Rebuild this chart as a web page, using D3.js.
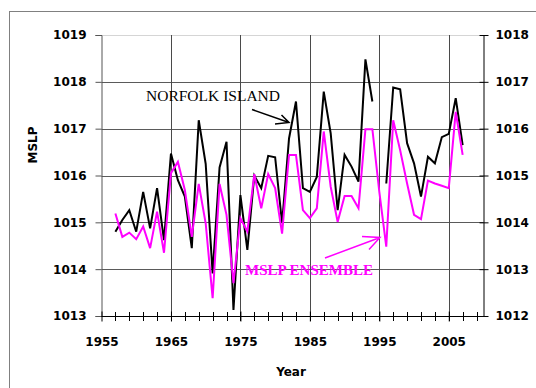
<!DOCTYPE html>
<html>
<head>
<meta charset="utf-8">
<script src="https://cdn.jsdelivr.net/npm/d3@7"></script>
<style>
  body { margin: 0; background: #fff; }
  svg text { font-family: "DejaVu Sans", Arial, sans-serif; }
</style>
</head>
<body>
<div id="chart"></div>
<script>
// years 1957-2007
const years = d3.range(1957, 2008);
const norfolk = [1014.80, 1015.05, 1015.26, 1014.80, 1015.65, 1014.87, 1015.73, 1014.62, 1016.47, 1015.90,
                 1015.55, 1014.45, 1017.18, 1016.25, 1013.91, 1016.17, 1016.72, 1013.13, 1015.58, 1014.41,
                 1016.00, 1015.73, 1016.42, 1016.39, 1014.98, 1016.79, 1017.58, 1015.73, 1015.65, 1015.97,
                 1017.79, 1016.90, 1015.26, 1016.44, 1016.19, 1015.87, 1018.48, 1017.58, null, 1015.83,
                 1017.88, 1017.84, 1016.69, 1016.26, 1015.55, 1016.40, 1016.26, 1016.82, 1016.89, 1017.65,
                 1016.65];
const ensemble = [1015.19, 1014.69, 1014.78, 1014.64, 1014.91, 1014.45, 1015.23, 1014.35, 1016.05, 1016.29,
                  1015.69, 1014.69, 1015.82, 1014.98, 1013.38, 1015.82, 1015.16, 1013.70, 1015.09, 1014.80,
                  1016.03, 1015.30, 1016.03, 1015.73, 1014.76, 1016.44, 1016.44, 1015.26, 1015.09, 1015.30,
                  1016.94, 1015.76, 1015.01, 1015.56, 1015.56, 1015.30, 1016.99, 1016.99, 1015.65, 1014.48,
                  1017.18, 1016.54, 1015.83, 1015.16, 1015.07, 1015.89, 1015.83, 1015.78, 1015.73, 1017.36,
                  1016.44];
const yTicksLeft = [1013, 1014, 1015, 1016, 1017, 1018, 1019];
const yTicksRight = [1012, 1013, 1014, 1015, 1016, 1017, 1018];
const xTicks = [1955, 1965, 1975, 1985, 1995, 2005];
const xMinor = d3.range(1957, 2010, 2);

const width = 536, height = 388;
const svg = d3.select("#chart").append("svg")
    .attr("width", width)
    .attr("height", height);

// outer frame
svg.append("rect")
    .attr("x", 9.5).attr("y", 11.5)
    .attr("width", 560).attr("height", 400)
    .attr("fill", "none").attr("stroke", "#808080");

let x = d3.scaleLinear().domain([1955, 2010]).range([101.5, 483.5]);
let yL = d3.scaleLinear().domain([1013, 1019]).range([316, 35]);
let yR = d3.scaleLinear().domain([1012, 1018]).range([316, 35]);

// horizontal grid
svg.selectAll("line.hgrid")
    .data(yTicksLeft.slice(1))
    .enter()
    .append("line")
    .attr("x1", x(1955)).attr("x2", x(2010))
    .attr("y1", d => Math.round(yL(d)) + 0.5)
    .attr("y2", d => Math.round(yL(d)) + 0.5)
    .attr("stroke", d => d == 1019 ? "#aaa" : "#5a5a5a")
    .attr("stroke-dasharray", d => d == 1019 ? "1,1" : null);

// vertical grid
svg.selectAll("line.vgrid")
    .data(xTicks.slice(1))
    .enter()
    .append("line")
    .attr("x1", d => Math.round(x(d)) + 0.5)
    .attr("x2", d => Math.round(x(d)) + 0.5)
    .attr("y1", yL(1019)).attr("y2", 321)
    .attr("stroke", "#4a4a4a");

function styleText(g) {
    g.selectAll("text")
        .attr("font-size", 12)
        .attr("font-weight", "bold")
        .attr("fill", "#000");
}

// left axis
let leftAxis = d3.axisLeft(yL).tickValues(yTicksLeft).tickSize(6).tickPadding(9).tickFormat(d3.format("d"));
svg.append("g")
    .attr("transform", "translate(101.5,0)")
    .call(leftAxis)
    .call(g => g.select(".domain").attr("stroke", "#555"))
    .call(g => g.selectAll(".tick line").attr("stroke", "#555"))
    .call(styleText);

// right axis
let rightAxis = d3.axisRight(yR).tickValues(yTicksRight).tickSizeInner(5).tickSizeOuter(0).tickPadding(7).tickFormat(d3.format("d"));
svg.append("g")
    .attr("transform", "translate(483.5,0)")
    .call(rightAxis)
    .call(g => g.selectAll(".tick line").attr("x1", -4))
    .call(styleText);

// bottom axis
let bottomAxis = d3.axisBottom(x).tickValues(xTicks).tickSize(5).tickPadding(16).tickFormat(d3.format("d"));
svg.append("g")
    .attr("transform", "translate(0,316.5)")
    .call(bottomAxis)
    .call(g => g.select(".domain").attr("d", `M${x(1955)},0H${x(2010)}`))
    .call(g => g.selectAll(".tick line").attr("y1", -5))
    .call(styleText);

svg.selectAll("line.minor")
    .data(xMinor)
    .enter()
    .append("line")
    .attr("x1", d => Math.round(x(d)) + 0.5)
    .attr("x2", d => Math.round(x(d)) + 0.5)
    .attr("y1", 312).attr("y2", 321)
    .attr("stroke", "#000");

// axis titles
svg.append("text")
    .attr("transform", "translate(37,145) rotate(-90)")
    .attr("text-anchor", "middle")
    .attr("font-size", 12).attr("font-weight", "bold")
    .text("MSLP");

svg.append("text")
    .attr("x", 291).attr("y", 376)
    .attr("text-anchor", "middle")
    .attr("font-size", 12).attr("font-weight", "bold")
    .text("Year");

// series
let lineL = d3.line()
    .defined(d => d[1] != null)
    .x(d => x(d[0]))
    .y(d => yL(d[1]));

svg.append("path")
    .datum(years.map((yr, i) => [yr, norfolk[i]]))
    .attr("d", lineL)
    .attr("fill", "none")
    .attr("stroke", "#000")
    .attr("stroke-width", 2);

svg.append("path")
    .datum(years.map((yr, i) => [yr, ensemble[i]]))
    .attr("d", lineL)
    .attr("fill", "none")
    .attr("stroke", "#ff00ff")
    .attr("stroke-width", 2);

// annotations
svg.append("text")
    .attr("x", 146).attr("y", 101)
    .style("font-family", "'Liberation Serif', 'Times New Roman', serif")
    .attr("font-size", 14)
    .attr("textLength", 134)
    .attr("lengthAdjust", "spacingAndGlyphs")
    .attr("fill", "#000")
    .text("NORFOLK ISLAND");

svg.append("path")
    .attr("d", "M252,109.5L289,122.5M275,124L289,122.5L281.5,115")
    .attr("fill", "none")
    .attr("stroke", "#000")
    .attr("stroke-width", 1.5);

svg.append("text")
    .attr("x", 245).attr("y", 275)
    .style("font-family", "'Liberation Serif', 'Times New Roman', serif")
    .attr("font-size", 14)
    .attr("font-weight", "bold")
    .attr("textLength", 128)
    .attr("lengthAdjust", "spacingAndGlyphs")
    .attr("fill", "#ff00ff")
    .text("MSLP ENSEMBLE");

svg.append("path")
    .attr("d", "M325,258L380,237.5M362,236.5L380,237.5L369,249.5")
    .attr("fill", "none")
    .attr("stroke", "#ff00ff")
    .attr("stroke-width", 1.5);
</script>
</body>
</html>
